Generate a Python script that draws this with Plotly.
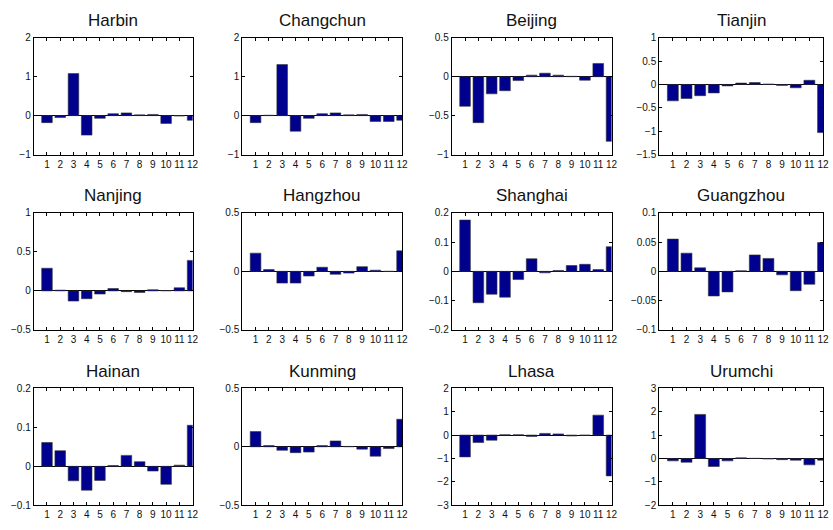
import plotly.graph_objects as go

months = list(range(1, 13))

cities = ["Harbin", "Changchun", "Beijing", "Tianjin",
          "Nanjing", "Hangzhou", "Shanghai", "Guangzhou",
          "Hainan", "Kunming", "Lhasa", "Urumchi"]

harbin = [-0.18, -0.05, 1.08, -0.50, -0.07, 0.05, 0.07, 0.02, 0.03, -0.20, -0.01, -0.12]
changchun = [-0.18, 0.01, 1.31, -0.40, -0.07, 0.05, 0.07, 0.02, 0.03, -0.15, -0.15, -0.12]
beijing = [-0.38, -0.59, -0.22, -0.18, -0.05, 0.02, 0.045, 0.02, 0.005, -0.045, 0.17, -0.83]
tianjin = [-0.35, -0.30, -0.24, -0.18, -0.03, 0.03, 0.04, 0.01, -0.02, -0.07, 0.09, -1.03]
nanjing = [0.29, 0.01, -0.13, -0.10, -0.04, 0.03, -0.01, -0.02, 0.015, 0.005, 0.04, 0.39]
hangzhou = [0.155, 0.015, -0.10, -0.10, -0.04, 0.035, -0.025, -0.015, 0.04, 0.01, 0.0, 0.175]
shanghai = [0.175, -0.107, -0.078, -0.088, -0.028, 0.043, -0.005, 0.003, 0.02, 0.024, 0.006, 0.084]
guangzhou = [0.055, 0.031, 0.006, -0.042, -0.035, 0.001, 0.028, 0.022, -0.006, -0.033, -0.022, 0.049]
hainan = [0.061, 0.040, -0.037, -0.061, -0.036, 0.002, 0.028, 0.012, -0.012, -0.046, 0.003, 0.105]
kunming = [0.13, 0.01, -0.03, -0.05, -0.045, 0.01, 0.05, 0.003, -0.02, -0.08, -0.015, 0.235]
lhasa = [-0.93, -0.32, -0.22, 0.01, 0.01, -0.06, 0.07, 0.05, -0.04, -0.01, 0.85, -1.74]
urumchi = [-0.10, -0.16, 1.88, -0.34, -0.10, 0.03, 0.01, -0.02, -0.05, -0.07, -0.27, -0.07]

series = [harbin, changchun, beijing, tianjin,
          nanjing, hangzhou, shanghai, guangzhou,
          hainan, kunming, lhasa, urumchi]

y_ticks = [
    [-1, 0, 1, 2], [-1, 0, 1, 2], [-1, -0.5, 0, 0.5], [-1.5, -1, -0.5, 0, 0.5, 1],
    [-0.5, 0, 0.5, 1], [-0.5, 0, 0.5], [-0.2, -0.1, 0, 0.1, 0.2], [-0.1, -0.05, 0, 0.05, 0.1],
    [-0.1, 0, 0.1, 0.2], [-0.5, 0, 0.5], [-3, -2, -1, 0, 1, 2], [-2, -1, 0, 1, 2, 3],
]

W, H = 833, 530
col_px = [(34, 194), (244, 405), (455, 616), (664, 829)]
row_px = [(32.5, 152), (211.5, 331.5), (391, 511)]

fig = go.Figure()
layout = dict(
    width=W, height=H, margin=dict(l=0, r=0, t=0, b=0),
    paper_bgcolor="white", plot_bgcolor="white", showlegend=False,
    font=dict(family="Liberation Sans, Arial, sans-serif", size=10, color="#111"),
    bargap=0.2,
)
annotations = []

for i, (name, vals, yt) in enumerate(zip(cities, series, y_ticks)):
    r, c = divmod(i, 4)
    k = "" if i == 0 else str(i + 1)
    x0, x1 = col_px[c]
    top, bot = row_px[r]
    fig.add_trace(go.Bar(
        x=months, y=vals, width=0.8,
        marker=dict(color="#00008F", line=dict(color="#333333", width=0.6)),
        xaxis="x" + k, yaxis="y" + k,
    ))
    axis_common = dict(
        showline=True, linecolor="black", linewidth=1, mirror="allticks",
        ticks="inside", ticklen=3, tickcolor="black", showgrid=False,
        fixedrange=True,
    )
    layout["xaxis" + k] = dict(
        axis_common, domain=[x0 / W, x1 / W], anchor="y" + k,
        range=[0, 12], tickmode="array", tickvals=months,
        ticktext=[str(m) for m in months], zeroline=False,
    )
    layout["yaxis" + k] = dict(
        axis_common, domain=[1 - bot / H, 1 - top / H], anchor="x" + k,
        range=[yt[0], yt[-1]], tickmode="array", tickvals=yt,
        zeroline=True, zerolinecolor="black", zerolinewidth=1,
    )
    annotations.append(dict(
        text=name, xref="paper", yref="paper",
        x=(x0 + x1) / 2 / W, y=1 - top / H, xanchor="center", yanchor="middle",
        yshift=17, showarrow=False,
        font=dict(size=17, color="#111", family="Liberation Sans, Arial, sans-serif"),
    ))

layout["annotations"] = annotations
fig.update_layout(**layout)
fig.write_html("out.html")
